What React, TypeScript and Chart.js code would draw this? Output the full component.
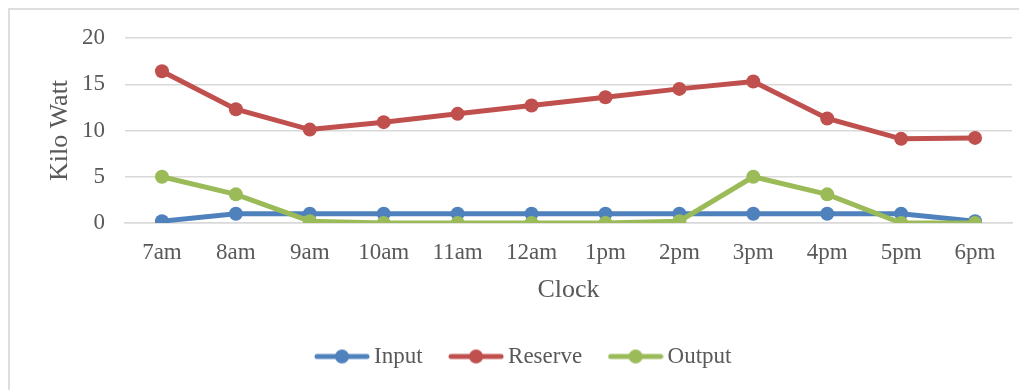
import React, { useEffect, useRef } from "react";
import { Chart, registerables } from "chart.js";

Chart.register(...registerables);

const categories = ["7am", "8am", "9am", "10am", "11am", "12am", "1pm", "2pm", "3pm", "4pm", "5pm", "6pm"];
const inputValues = [0.2, 1, 1, 1, 1, 1, 1, 1, 1, 1, 1, 0.2];
const reserveValues = [16.4, 12.3, 10.1, 10.9, 11.8, 12.7, 13.6, 14.5, 15.3, 11.3, 9.1, 9.2];
const outputValues = [5, 3.1, 0.2, 0, 0, 0, 0, 0.2, 5, 3.1, 0, 0];
const seriesNames = ["Input", "Reserve", "Output"];
const seriesColors = ["#4F81BD", "#C0504D", "#9BBB59"];

const FONT = "'Liberation Serif', 'Times New Roman', serif";
const TEXT = "#595959";

function makeLegendImage(color: string) {
  const c = document.createElement("canvas");
  c.width = 56;
  c.height = 16;
  const ctx = c.getContext("2d")!;
  ctx.strokeStyle = color;
  ctx.lineWidth = 5;
  ctx.lineCap = "round";
  ctx.beginPath();
  ctx.moveTo(3, 8);
  ctx.lineTo(53, 8);
  ctx.stroke();
  ctx.fillStyle = color;
  ctx.beginPath();
  ctx.arc(28, 8, 7, 0, Math.PI * 2);
  ctx.fill();
  return c;
}

export default function App() {
  const ref = useRef<HTMLCanvasElement>(null);

  useEffect(() => {
    const imgs = seriesColors.map(makeLegendImage);
    const values = [inputValues, reserveValues, outputValues];
    const orders = [2, 1, 0];
    const chart = new Chart(ref.current!, {
      type: "line",
      data: {
        labels: categories,
        datasets: values.map((v, i) => ({
          label: seriesNames[i],
          data: v,
          borderColor: seriesColors[i],
          backgroundColor: seriesColors[i],
          borderWidth: 5,
          pointRadius: 7,
          pointHoverRadius: 7,
          pointBorderWidth: 0,
          tension: 0,
          order: orders[i],
        })),
      },
      options: {
        responsive: false,
        animation: false,
        layout: { padding: { left: 32, top: 29, right: 15, bottom: 12 } },
        plugins: {
          tooltip: { enabled: false },
          legend: {
            position: "bottom",
            labels: {
              usePointStyle: true,
              pointStyleWidth: 41,
              padding: 33,
              color: TEXT,
              font: { family: FONT, size: 23 },
              generateLabels: (ch: any) =>
                ch.data.datasets.map((ds: any, i: number) => ({
                  text: ds.label,
                  fillStyle: ds.borderColor,
                  strokeStyle: ds.borderColor,
                  lineWidth: 0,
                  pointStyle: imgs[i],
                  hidden: false,
                  datasetIndex: i,
                  fontColor: TEXT,
                })),
            },
          },
        },
        scales: {
          x: {
            offset: true,
            grid: { display: false, drawTicks: false },
            border: { display: true, color: "#d9d9d9", width: 1.5 },
            ticks: { color: TEXT, font: { family: FONT, size: 23 }, padding: 16, maxRotation: 0, autoSkip: false },
            title: {
              display: true,
              text: "Clock",
              color: TEXT,
              font: { family: FONT, size: 26 },
              padding: { top: 4, bottom: 6 },
            },
            afterFit: (s: any) => {
              s.height = 89;
            },
          },
          y: {
            min: 0,
            max: 20,
            grid: { color: "#d9d9d9", lineWidth: 1.5, drawTicks: false },
            border: { display: false },
            ticks: { stepSize: 5, color: TEXT, font: { family: FONT, size: 23 }, padding: 20 },
            title: {
              display: true,
              text: "Kilo Watt",
              color: TEXT,
              font: { family: FONT, size: 26 },
              padding: { top: 4, bottom: 4 },
            },
            afterFit: (s: any) => {
              s.width = 84;
              s.paddingTop = 0;
              s.paddingBottom = 0;
            },
          },
        },
      },
    });
    return () => chart.destroy();
  }, []);

  return (
    <div style={{ position: "relative", width: 1019, height: 382, overflow: "hidden" }}>
      <div
        style={{
          position: "absolute",
          left: 0,
          top: 0,
          width: 1100,
          height: 500,
          border: "2px solid #dedede",
          boxSizing: "border-box",
        }}
      />
      <canvas ref={ref} width={1018} height={381} style={{ position: "absolute", left: 1, top: 1 }} />
    </div>
  );
}
